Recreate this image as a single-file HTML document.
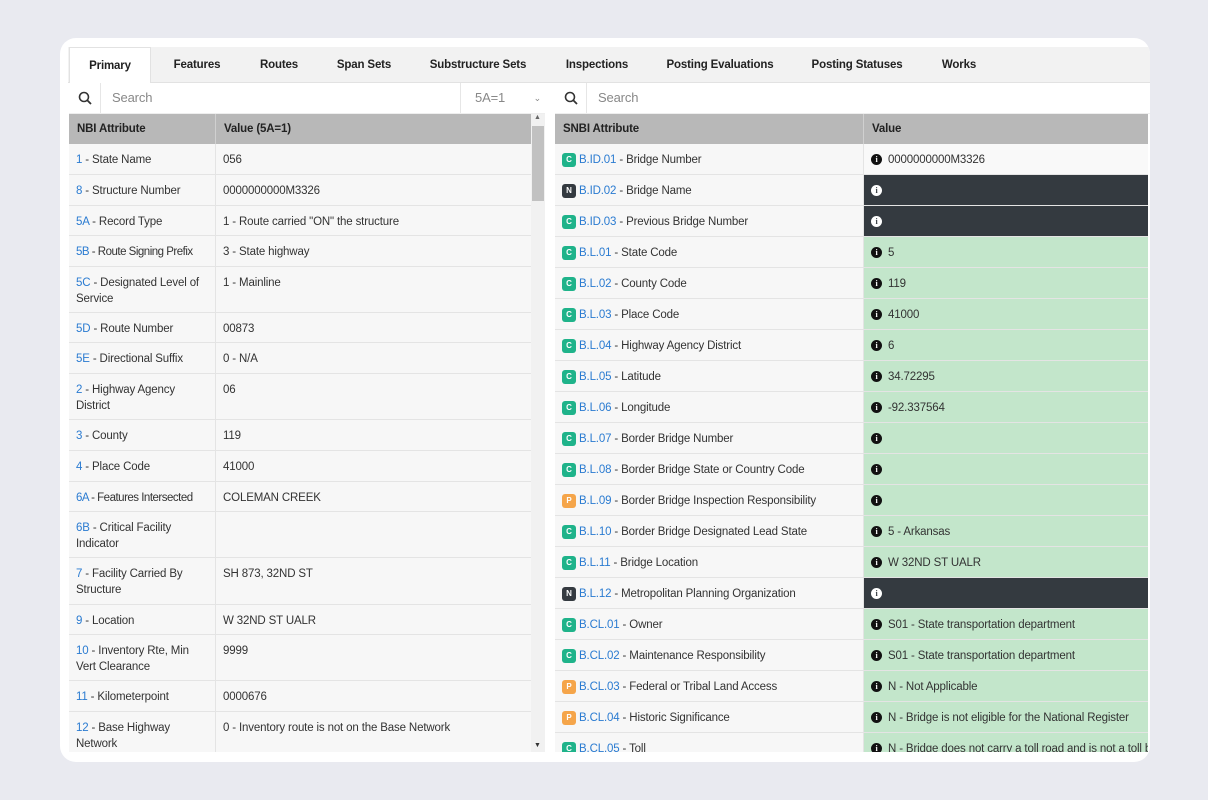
<!DOCTYPE html>
<html><head><meta charset="utf-8"><style>
*{box-sizing:border-box;margin:0;padding:0}
body{width:1208px;height:800px;background:#e9eaf0;font-family:"Liberation Sans",sans-serif;font-size:11.5px;color:#333;position:relative;overflow:hidden;letter-spacing:-0.15px}
.card{position:absolute;left:60px;top:38px;width:1090px;height:724px;background:#fff;border-radius:16px;overflow:hidden}
.tabs{position:absolute;left:8px;top:9px;width:1082px;height:36px;background:#f2f2f2;border-bottom:1px solid #e2e2e2}
.tab{position:absolute;top:0;height:36px;line-height:37px;font-weight:bold;font-size:11.5px;color:#222;text-align:center;white-space:nowrap}
.tab.act{background:#fff;border:1px solid #e2e2e2;border-bottom:none;height:37px;line-height:36px}
.srch{position:absolute;top:45px;height:31px;background:#fff;border-bottom:1px solid #eee}
.ic{position:absolute;top:0;width:32px;height:30px;border-right:1px solid #e6e6e6}
.ph{position:absolute;top:0;line-height:30px;color:#888;font-size:13px}
.tbl{position:absolute;overflow:hidden}
.hd{position:absolute;top:0;height:30px;background:#b8b8b8;font-weight:bold;line-height:31px;padding-left:8px;color:#222}
.r{position:absolute;left:0;right:0;border-bottom:1px solid #e4e4e4;background:#f7f7f7}
.c{position:absolute;top:0;bottom:0;padding:8px 5px 0 7px;line-height:16px;overflow:hidden}
.c2{border-left:1px solid #e4e4e4}
a{color:#2a7bd1;text-decoration:none}
.b{display:inline-block;width:14px;height:14px;border-radius:3px;color:#fff;font-size:8px;font-weight:bold;text-align:center;line-height:14px;vertical-align:top;margin-top:1px;margin-right:3px}
.C{background:#1fb38a}.N{background:#343a40}.P{background:#f5a54a}
.i{display:inline-block;width:11px;height:11px;border-radius:50%;background:#111;color:#fff;font-size:8px;font-weight:bold;text-align:center;line-height:11px;margin-right:6px;vertical-align:top;margin-top:2px;font-family:"Liberation Serif",serif}
.dk{background:#343a40}.dk .i{background:#fff;color:#343a40}
.gr{background:#c3e6cb}
.wt{background:#f9f9f9}
</style></head><body>
<div class="card">
<div class="tabs">
<div class="tab act" style="left:1px;width:82px">Primary</div>
<div class="tab" style="left:89px;width:80px">Features</div>
<div class="tab" style="left:181px;width:60px">Routes</div>
<div class="tab" style="left:251px;width:90px">Span Sets</div>
<div class="tab" style="left:345px;width:130px">Substructure Sets</div>
<div class="tab" style="left:484px;width:90px">Inspections</div>
<div class="tab" style="left:587px;width:130px">Posting Evaluations</div>
<div class="tab" style="left:729px;width:120px">Posting Statuses</div>
<div class="tab" style="left:866px;width:50px">Works</div>
</div>
<div class="srch" style="left:9px;width:476px">
<div class="ic"><svg width="32" height="30"><circle cx="15" cy="14" r="4.5" fill="none" stroke="#333" stroke-width="1.6"/><line x1="18.5" y1="17.5" x2="22" y2="21" stroke="#333" stroke-width="1.8"/></svg></div>
<div class="ph" style="left:43px">Search</div>
<div style="position:absolute;left:391px;top:0;width:85px;height:30px;border-left:1px solid #e6e6e6;line-height:30px;color:#888;font-size:13px;padding-left:14px">5A=1<span style="position:absolute;right:4px;font-size:9px">&#8964;</span></div>
</div>
<div class="srch" style="left:495px;width:595px">
<div class="ic"><svg width="32" height="30"><circle cx="15" cy="14" r="4.5" fill="none" stroke="#333" stroke-width="1.6"/><line x1="18.5" y1="17.5" x2="22" y2="21" stroke="#333" stroke-width="1.8"/></svg></div>
<div class="ph" style="left:43px">Search</div>
</div>

<div class="tbl" style="left:9px;top:76px;width:476px;height:638px">
<div class="hd" style="left:0;width:146px">NBI Attribute</div>
<div class="hd" style="left:146px;width:316px;border-left:1px solid #d0d0d0">Value (5A=1)</div>
<div style="position:absolute;left:462px;top:0;width:14px;height:638px;background:#f1f1f1"><div style="position:absolute;left:1px;top:12px;width:12px;height:75px;background:#c1c1c1"></div><div style="position:absolute;top:0;left:3px;font-size:7px;color:#666">&#9650;</div><div style="position:absolute;bottom:3px;left:3px;font-size:7px;color:#333">&#9660;</div></div>
<div style="position:absolute;left:0;top:30px;width:462px">
<div class="r" style="top:0;height:31px"><div class="c" style="width:146px"><a>1</a> - State Name</div><div class="c c2" style="left:146px">056</div></div>
<div class="r" style="top:31px;height:31px"><div class="c" style="width:146px"><a>8</a> - Structure Number</div><div class="c c2" style="left:146px">0000000000M3326</div></div>
<div class="r" style="top:62px;height:30px"><div class="c" style="width:146px"><a>5A</a> - Record Type</div><div class="c c2" style="left:146px">1 - Route carried "ON" the structure</div></div>
<div class="r" style="top:92px;height:31px"><div class="c" style="width:146px;letter-spacing:-0.5px;white-space:nowrap"><a>5B</a> - Route Signing Prefix</div><div class="c c2" style="left:146px">3 - State highway</div></div>
<div class="r" style="top:123px;height:46px"><div class="c" style="width:146px"><a>5C</a> - Designated Level of Service</div><div class="c c2" style="left:146px">1 - Mainline</div></div>
<div class="r" style="top:169px;height:30px"><div class="c" style="width:146px"><a>5D</a> - Route Number</div><div class="c c2" style="left:146px">00873</div></div>
<div class="r" style="top:199px;height:31px"><div class="c" style="width:146px"><a>5E</a> - Directional Suffix</div><div class="c c2" style="left:146px">0 - N/A</div></div>
<div class="r" style="top:230px;height:46px"><div class="c" style="width:146px"><a>2</a> - Highway Agency District</div><div class="c c2" style="left:146px">06</div></div>
<div class="r" style="top:276px;height:31px"><div class="c" style="width:146px"><a>3</a> - County</div><div class="c c2" style="left:146px">119</div></div>
<div class="r" style="top:307px;height:31px"><div class="c" style="width:146px"><a>4</a> - Place Code</div><div class="c c2" style="left:146px">41000</div></div>
<div class="r" style="top:338px;height:30px"><div class="c" style="width:146px;letter-spacing:-0.5px;white-space:nowrap"><a>6A</a> - Features Intersected</div><div class="c c2" style="left:146px">COLEMAN CREEK</div></div>
<div class="r" style="top:368px;height:46px"><div class="c" style="width:146px"><a>6B</a> - Critical Facility Indicator</div><div class="c c2" style="left:146px"></div></div>
<div class="r" style="top:414px;height:47px"><div class="c" style="width:146px"><a>7</a> - Facility Carried By Structure</div><div class="c c2" style="left:146px">SH 873, 32ND ST</div></div>
<div class="r" style="top:461px;height:30px"><div class="c" style="width:146px"><a>9</a> - Location</div><div class="c c2" style="left:146px">W 32ND ST UALR</div></div>
<div class="r" style="top:491px;height:46px"><div class="c" style="width:146px"><a>10</a> - Inventory Rte, Min Vert Clearance</div><div class="c c2" style="left:146px">9999</div></div>
<div class="r" style="top:537px;height:31px"><div class="c" style="width:146px"><a>11</a> - Kilometerpoint</div><div class="c c2" style="left:146px">0000676</div></div>
<div class="r" style="top:568px;height:46px"><div class="c" style="width:146px"><a>12</a> - Base Highway Network</div><div class="c c2" style="left:146px">0 - Inventory route is not on the Base Network</div></div>
</div></div>

<div class="tbl" style="left:495px;top:76px;width:593px;height:638px">
<div class="hd" style="left:0;width:308px">SNBI Attribute</div>
<div class="hd" style="left:308px;width:285px;border-left:1px solid #d0d0d0">Value</div>
<div style="position:absolute;left:0;top:30px;width:593px">
<div class="r" style="top:0;height:31px"><div class="c" style="width:308px"><span class="b C">C</span><a>B.ID.01</a> - Bridge Number</div><div class="c c2 wt" style="left:308px;right:0"><span class="i">i</span>0000000000M3326</div></div>
<div class="r" style="top:31px;height:31px"><div class="c" style="width:308px"><span class="b N">N</span><a>B.ID.02</a> - Bridge Name</div><div class="c c2 dk" style="left:308px;right:0"><span class="i">i</span></div></div>
<div class="r" style="top:62px;height:31px"><div class="c" style="width:308px"><span class="b C">C</span><a>B.ID.03</a> - Previous Bridge Number</div><div class="c c2 dk" style="left:308px;right:0"><span class="i">i</span></div></div>
<div class="r" style="top:93px;height:31px"><div class="c" style="width:308px"><span class="b C">C</span><a>B.L.01</a> - State Code</div><div class="c c2 gr" style="left:308px;right:0"><span class="i">i</span>5</div></div>
<div class="r" style="top:124px;height:31px"><div class="c" style="width:308px"><span class="b C">C</span><a>B.L.02</a> - County Code</div><div class="c c2 gr" style="left:308px;right:0"><span class="i">i</span>119</div></div>
<div class="r" style="top:155px;height:31px"><div class="c" style="width:308px"><span class="b C">C</span><a>B.L.03</a> - Place Code</div><div class="c c2 gr" style="left:308px;right:0"><span class="i">i</span>41000</div></div>
<div class="r" style="top:186px;height:31px"><div class="c" style="width:308px"><span class="b C">C</span><a>B.L.04</a> - Highway Agency District</div><div class="c c2 gr" style="left:308px;right:0"><span class="i">i</span>6</div></div>
<div class="r" style="top:217px;height:31px"><div class="c" style="width:308px"><span class="b C">C</span><a>B.L.05</a> - Latitude</div><div class="c c2 gr" style="left:308px;right:0"><span class="i">i</span>34.72295</div></div>
<div class="r" style="top:248px;height:31px"><div class="c" style="width:308px"><span class="b C">C</span><a>B.L.06</a> - Longitude</div><div class="c c2 gr" style="left:308px;right:0"><span class="i">i</span>-92.337564</div></div>
<div class="r" style="top:279px;height:31px"><div class="c" style="width:308px"><span class="b C">C</span><a>B.L.07</a> - Border Bridge Number</div><div class="c c2 gr" style="left:308px;right:0"><span class="i">i</span></div></div>
<div class="r" style="top:310px;height:31px"><div class="c" style="width:308px"><span class="b C">C</span><a>B.L.08</a> - Border Bridge State or Country Code</div><div class="c c2 gr" style="left:308px;right:0"><span class="i">i</span></div></div>
<div class="r" style="top:341px;height:31px"><div class="c" style="width:308px"><span class="b P">P</span><a>B.L.09</a> - Border Bridge Inspection Responsibility</div><div class="c c2 gr" style="left:308px;right:0"><span class="i">i</span></div></div>
<div class="r" style="top:372px;height:31px"><div class="c" style="width:308px"><span class="b C">C</span><a>B.L.10</a> - Border Bridge Designated Lead State</div><div class="c c2 gr" style="left:308px;right:0"><span class="i">i</span>5 - Arkansas</div></div>
<div class="r" style="top:403px;height:31px"><div class="c" style="width:308px"><span class="b C">C</span><a>B.L.11</a> - Bridge Location</div><div class="c c2 gr" style="left:308px;right:0"><span class="i">i</span>W 32ND ST UALR</div></div>
<div class="r" style="top:434px;height:31px"><div class="c" style="width:308px"><span class="b N">N</span><a>B.L.12</a> - Metropolitan Planning Organization</div><div class="c c2 dk" style="left:308px;right:0"><span class="i">i</span></div></div>
<div class="r" style="top:465px;height:31px"><div class="c" style="width:308px"><span class="b C">C</span><a>B.CL.01</a> - Owner</div><div class="c c2 gr" style="left:308px;right:0"><span class="i">i</span>S01 - State transportation department</div></div>
<div class="r" style="top:496px;height:31px"><div class="c" style="width:308px"><span class="b C">C</span><a>B.CL.02</a> - Maintenance Responsibility</div><div class="c c2 gr" style="left:308px;right:0"><span class="i">i</span>S01 - State transportation department</div></div>
<div class="r" style="top:527px;height:31px"><div class="c" style="width:308px"><span class="b P">P</span><a>B.CL.03</a> - Federal or Tribal Land Access</div><div class="c c2 gr" style="left:308px;right:0"><span class="i">i</span>N - Not Applicable</div></div>
<div class="r" style="top:558px;height:31px"><div class="c" style="width:308px"><span class="b P">P</span><a>B.CL.04</a> - Historic Significance</div><div class="c c2 gr" style="left:308px;right:0;white-space:nowrap;overflow:hidden"><span class="i">i</span>N - Bridge is not eligible for the National Register</div></div>
<div class="r" style="top:589px;height:31px"><div class="c" style="width:308px"><span class="b C">C</span><a>B.CL.05</a> - Toll</div><div class="c c2 gr" style="left:308px;right:0;white-space:nowrap;overflow:hidden"><span class="i">i</span>N - Bridge does not carry a toll road and is not a toll bridge</div></div>
</div></div>
</div>
</body></html>
